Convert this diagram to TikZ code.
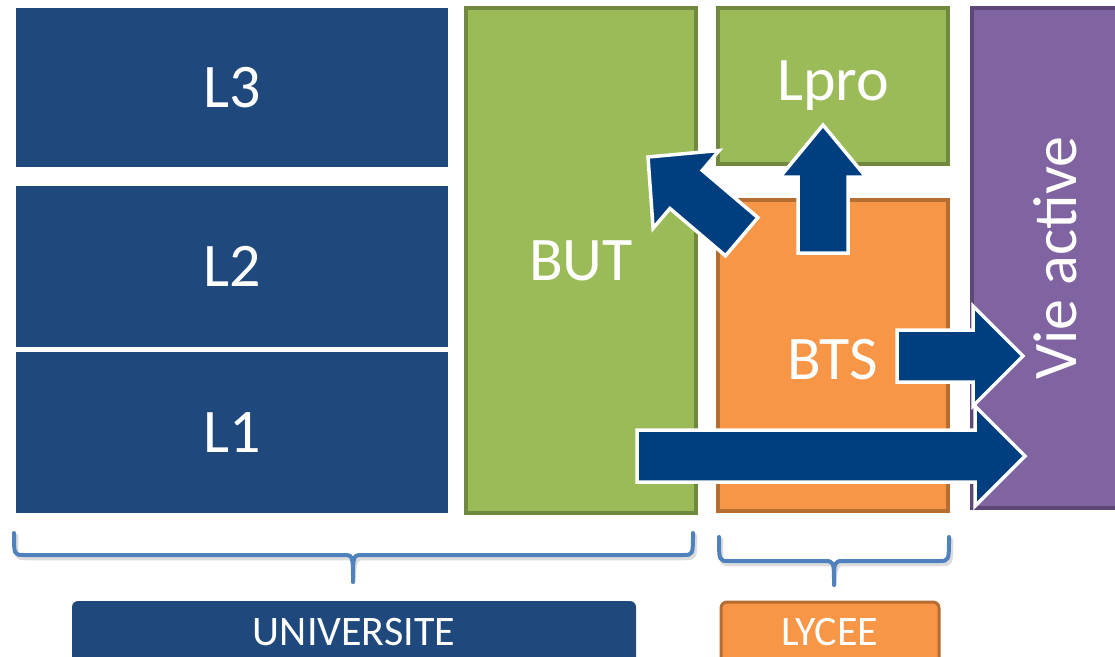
\documentclass[tikz,border=0pt]{standalone}
\usepackage{fontspec}
\setmainfont{Carlito}
\definecolor{lblue}{HTML}{1F497D}
\definecolor{abl}{HTML}{003F7F}
\definecolor{grn}{HTML}{9BBB59}
\definecolor{grnd}{HTML}{71893F}
\definecolor{org}{HTML}{F79646}
\definecolor{orgd}{HTML}{B66D31}
\definecolor{pur}{HTML}{8064A2}
\definecolor{purd}{HTML}{5C4776}
\definecolor{brc}{HTML}{4F81BD}
\begin{document}
\begin{tikzpicture}[x=1pt,y=-1pt,
  box/.style={rectangle, inner sep=0pt, text=white, font=\fontsize{62}{74}\selectfont},
  lbox/.style={box, fill=lblue},
  gbox/.style={box, fill=grn, draw=grnd, line width=3.5pt},
  obox/.style={box, fill=org, draw=orgd, line width=3.5pt},
  pbox/.style={box, fill=pur, draw=purd, line width=3.5pt},
  tagbox/.style={rectangle, rounded corners=6pt, inner sep=0pt, text=white, font=\fontsize{42}{50}\selectfont},
  tagtext/.style={text=white, font=\fontsize{42}{50}\selectfont, inner sep=0pt},
  blockarrow/.style={fill=abl, draw=white, line width=3.5pt, line join=miter},
  bracepath/.style={draw=brc, line width=4pt, line cap=round, line join=round},
  braceshadow/.style={draw=black!30, line width=4.5pt, opacity=0.45, line cap=round, line join=round}]
\useasboundingbox (0,0) rectangle (1115,656);
% university blocks
\node[lbox, minimum width=432pt, minimum height=159pt] (L3) at (232,87.5) {L3};
\node[lbox, minimum width=432pt, minimum height=161pt] (L2) at (232,266.5) {L2};
\node[lbox, minimum width=432pt, minimum height=161pt] (L1) at (232,432.5) {L1};
\node[gbox, minimum width=230pt, minimum height=505pt] (BUT) at (581,260.5) {BUT};
% lycee blocks
\node[gbox, minimum width=230pt, minimum height=156pt] (Lpro) at (833,86) {Lpro};
\node[obox, minimum width=230pt, minimum height=311pt] (BTS) at (833,355.5) {};
\node[box] (BTStext) at (833,360) {BTS};
% vie active
\node[pbox, minimum width=166pt, minimum height=500pt] (vie) at (1055,258) {};
\node[box, rotate=90] (vietext) at (vie.center) {Vie active};
% block arrows
\draw[blockarrow] (757.9,217.6) -- (702.3,170.4) -- (719.1,150.5) -- (648,157)
  -- (653.1,228.3) -- (669.9,208.5) -- (725.5,255.8) -- cycle;
\draw[blockarrow] (798,253) -- (798,177) -- (780,177) -- (823,125) -- (866,177)
  -- (848,177) -- (848,253) -- cycle;
\draw[blockarrow] (897,330) -- (973,330) -- (973,306) -- (1023,356) -- (973,406)
  -- (973,382) -- (897,382) -- cycle;
\draw[blockarrow] (637,430) -- (975,430) -- (975,406) -- (1025,456) -- (975,506)
  -- (975,482) -- (637,482) -- cycle;
% braces
\coordinate (bu) at (353,582);
\coordinate (bl) at (834,585);
\begin{scope}[shift={(2,3)}]
\draw[braceshadow] (14,533) .. controls (14,555) .. (24,555) -- (343,555)
  .. controls (353,555) .. (bu) .. controls (353,555) .. (363,555) -- (683,555)
  .. controls (693,555) .. (693,533);
\draw[braceshadow] (719,537) .. controls (719,561) .. (729,561) -- (824,561)
  .. controls (834,561) .. (bl) .. controls (834,561) .. (844,561) -- (939,561)
  .. controls (949,561) .. (949,537);
\end{scope}
\draw[bracepath] (14,533) .. controls (14,555) .. (24,555) -- (343,555)
  .. controls (353,555) .. (bu) .. controls (353,555) .. (363,555) -- (683,555)
  .. controls (693,555) .. (693,533);
\draw[bracepath] (719,537) .. controls (719,561) .. (729,561) -- (824,561)
  .. controls (834,561) .. (bl) .. controls (834,561) .. (844,561) -- (939,561)
  .. controls (949,561) .. (949,537);
% labels
\node[tagbox, fill=lblue, minimum width=564pt, minimum height=64pt] (univ) at (354,633) {};
\node[tagtext] (univtext) at (354,632) {UNIVERSITE};
\node[tagbox, fill=org, draw=orgd, line width=3pt, minimum width=218pt, minimum height=62pt] (lycee) at (830,633) {};
\node[tagtext] (lyceetext) at (830,632) {LYCEE};
\end{tikzpicture}
\end{document}
